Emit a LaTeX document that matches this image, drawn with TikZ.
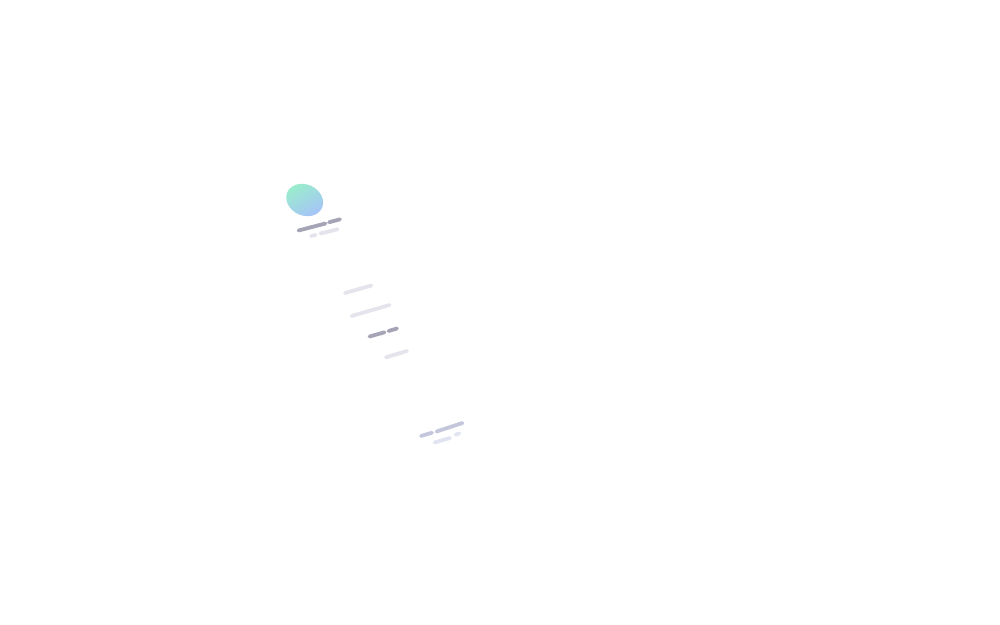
\documentclass[tikz,border=0pt]{standalone}
\usepackage{tikz}
\definecolor{barDark}{HTML}{A4A4B6}
\definecolor{barLight}{HTML}{E4E4EC}
\definecolor{barBlue}{HTML}{C4C6DC}
\definecolor{barPale}{HTML}{E2E4F2}
\definecolor{blobTeal}{HTML}{9AEECB}
\definecolor{blobBlue}{HTML}{A6C2FA}
\tikzset{
  bar/.style={line cap=round, line width=2.7pt},
  dark/.style={bar, draw=barDark},
  light/.style={bar, draw=barLight},
}

\begin{document}
\begin{tikzpicture}[x=0.025cm, y=-0.025cm]
    \useasboundingbox (0,0) rectangle (1000,625);
    % avatar
    \shade[left color=blobBlue, right color=blobTeal, shading angle=-150, rotate around={-25:(304.7,200)}]
      (304.7,200) ellipse (19 and 15.5);
    \draw[dark] (298.5,230.5) -- (325.5,223.5);
    \draw[dark] (329,222.3) -- (340,219.3);
    \draw[light] (311,236) -- (315.5,235);
    \draw[light] (320.5,233.5) -- (337.5,229.3);
    % middle
    \draw[light] (345,293) -- (371.5,285.5);
    \draw[light] (351.5,316) -- (389.5,305);
    \draw[dark] (369.5,336.5) -- (384.5,332.3);
    \draw[dark] (388.5,331) -- (397,328.5);
    \draw[light] (386,357.3) -- (407,351);
    % bottom
    \draw[bar, draw=barBlue] (421,436) -- (432,432.7);
    \draw[bar, draw=barBlue] (436.5,431.5) -- (462.5,423);
    \draw[bar, draw=barPale] (434.5,442.5) -- (450,438);
    \draw[bar, draw=barPale] (455.5,434.7) -- (459.3,433.3);
  \end{tikzpicture}
\end{document}
